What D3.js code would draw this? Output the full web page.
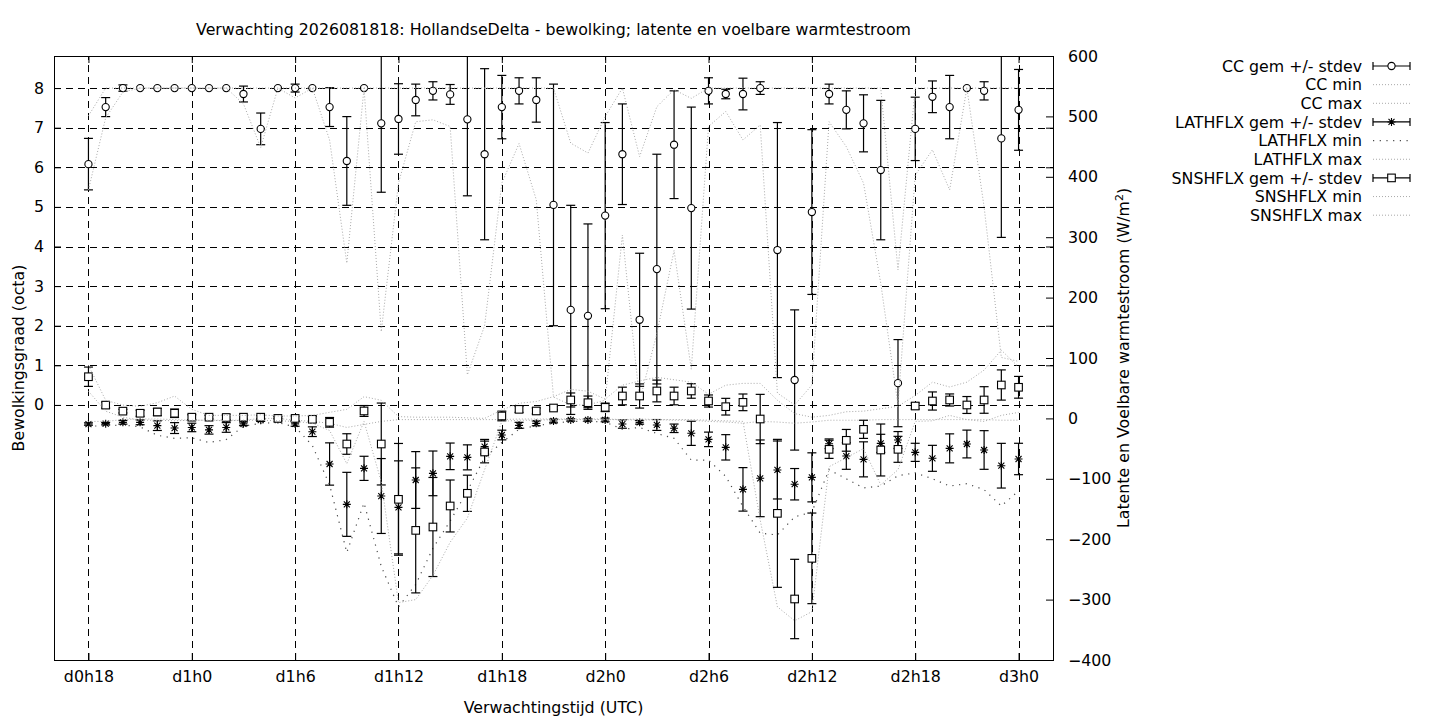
<!DOCTYPE html>
<html lang="nl">

<head>
    <meta charset="utf-8">
    <title>Verwachting HollandseDelta - bewolking en warmtestroom</title>
    <script type="text/javascript" src="https://cdnjs.cloudflare.com/ajax/libs/d3/7.8.5/d3.min.js"></script>
    <style type="text/css">
        body { margin: 0; background: #fff; }
        svg text { font-family: "DejaVu Sans", sans-serif; font-size: 15.8px; fill: #000; }
    </style>
</head>

<body>
    <script type="text/javascript">

        // forecast hour since d0h0 (d0h18 .. d3h0)
        var hours = [18, 19, 20, 21, 22, 23, 24, 25, 26, 27, 28, 29, 30, 31, 32, 33, 34, 35, 36, 37,
            38, 39, 40, 41, 42, 43, 44, 45, 46, 47, 48, 49, 50, 51, 52, 53, 54, 55, 56, 57,
            58, 59, 60, 61, 62, 63, 64, 65, 66, 67, 68, 69, 70, 71, 72];

        // cloud cover (octa)
        var ccMean = [6.08, 7.52, 8.0, 8.0, 8.0, 8.0, 8.0, 8.0, 8.0, 7.85,
            6.97, 8.0, 8.0, 8.0, 7.52, 6.16, 8.0, 7.11, 7.22, 7.70,
            7.93, 7.84, 7.21, 6.33, 7.52, 7.93, 7.70, 5.05, 2.40, 2.25,
            4.78, 6.33, 2.15, 3.43, 6.57, 4.97, 7.93, 7.85, 7.85, 8.0,
            3.91, 0.63, 4.87, 7.85, 7.45, 7.11, 5.93, 0.55, 6.97, 7.78,
            7.52, 8.0, 7.93, 6.73, 7.45];
        var ccStd = [0.65, 0.24, 0.08, 0, 0, 0, 0, 0, 0, 0.2,
            0.4, 0, 0.1, 0, 0.49, 1.12, 0, 1.74, 0.89, 0.4,
            0.23, 0.25, 1.93, 2.16, 0.8, 0.33, 0.56, 3.05, 2.64, 2.32,
            2.35, 1.27, 1.68, 2.9, 1.36, 2.55, 0.33, 0.12, 0.4, 0.16,
            3.22, 1.77, 2.08, 0.25, 0.48, 0.72, 1.76, 1.1, 0.8, 0.4,
            0.8, 0, 0.23, 2.5, 1.02];
        var ccMin = [5.43, 7.25, 7.9, 8, 8, 8, 8, 8, 8, 7.6,
            6.5, 8, 7.75, 8, 6.69, 3.58, 8, 1.85, 5.6, 7.15,
            7.2, 7.03, 0.76, 2.0, 5.6, 6.6, 5.18, 0.2, 0, 0,
            0.12, 4.29, 0.1, 1.8, 3.9, 0.9, 7.03, 7.41, 6.69, 7.07,
            0.3, 0, 0.5, 7.15, 6.52, 5.6, 3.07, 0, 5.8, 6.44,
            5.43, 8, 5.0, 1.2, 1.1];
        var ccMax = [7.3, 8, 8, 8, 8, 8, 8, 8, 8, 8,
            8, 8, 8, 8, 8, 8, 8, 8, 8, 8,
            8, 8, 8, 8, 8, 8, 8, 8, 6.61, 6.36,
            7.28, 8, 6.27, 7.53, 7.96, 7.74, 8, 8, 8, 8,
            8, 8, 8, 8, 8, 8, 8, 3.41, 8, 8,
            8, 8, 8, 8, 8];

        // latent heat flux (W/m2)
        var lhMean = [-9.3, -8.7, -6.5, -6.5, -12, -16, -15, -19, -15, -9,
            -3, -2, -9, -22, -75.5, -142.3, -82.7, -128.5, -147.3, -102,
            -91, -62.8, -64.5, -46.8, -27.5, -11.5, -8.2, -4.3, -2.6, -2.6,
            -2.6, -9.3, -6.5, -10.9, -16.4, -24.7, -34.7, -47.9, -117.5, -99.2,
            -85.4, -109, -97.6, -42, -62.3, -67.8, -41.3, -35.8, -56.2, -66.1,
            -49.6, -42.4, -52.3, -78.3, -67.2];
        var lhStd = [2, 2, 3, 4, 8, 9, 7, 7, 8, 3,
            2, 2, 4, 8, 35, 53, 20, 62, 77, 47,
            37, 22, 20.7, 12, 8, 5, 4, 3, 2, 2,
            3, 7, 3, 9, 7, 20, 12, 21, 36, 63.5,
            48, 26, 40.6, 8, 22, 29, 15, 14, 15, 21.5,
            24, 23, 32, 37, 26];
        var lhMin = [-13, -12, -11, -14, -28, -33, -32, -40, -35, -13,
            -8, -7, -14, -45, -110, -222, -140, -245, -312, -275,
            -215, -170, -120, -65, -40, -18, -12, -8, -5, -5,
            -6, -18, -15, -25, -33, -69, -69, -96, -146, -190,
            -193, -163, -155, -85, -100, -115, -112, -95, -90, -100,
            -112, -108, -118, -145, -120];
        var lhMax = [-5, -5, -2, -1, -1, -2, -3, -3, -3, -3,
            0, 0, -3, -5, -8, -15, -10, -5, -2, -2,
            -2, -2, -2, -2, -2, -1, -1, -1, -1, -1,
            -1, -2, -1, -2, -3, -3, -5, -6, -8, -5,
            -6, -8, -6, -3, -3, -3, -2, -2, -2, -2,
            -2, -2, -2, -3, -3];

        // sensible heat flux (W/m2)
        var shMean = [69, 22, 12, 8.5, 10.6, 8.5, 2, 2, 1.5, 2,
            2, 0, 0, -1.5, -6.5, -42.4, 12.3, -42.4, -134, -185.4,
            -179.8, -145, -124, -55.6, 4, 15, 12.3, 17.2, 30.5, 26,
            18.3, 37.1, 37.1, 45.4, 37.1, 45.4, 28.8, 19.4, 26.6, -1,
            -157.2, -299, -231.7, -51.2, -36.3, -18.1, -52.3, -51.2, 20.5, 28.8,
            30.5, 22.2, 30.5, 55.3, 51.5];
        var shStd = [16, 5, 3, 5, 6, 7, 4, 3, 4, 3,
            3, 3, 4, 5, 8, 17, 9, 67.8, 92.5, 103.5,
            82, 43, 30, 18, 8, 5, 5, 3, 11.6, 11,
            7, 14.6, 20, 18, 14.6, 12, 10, 13.8, 13.8, 40.8,
            122.5, 65.7, 75, 15, 18, 15, 43, 21.5, 5, 15,
            10, 14, 22, 25, 18];
        var shMin = [45, 12, 2, -3, -3, -4, -3, -3, -4, -3,
            -3, -4, -5, -8, -20, -75, -5, -105, -305, -300,
            -260, -205, -165, -85, -5, -3, -3, -2, -2, -2,
            -2, -2, -3, -2, -2, -2, -3, -4, -5, -168,
            -312, -335, -320, -80, -65, -50, -110, -85, -5, -4,
            5, -2, -5, 5, 10];
        var shMax = [88, 30, 22, 20, 26, 37, 15, 5, 5, 5,
            6, 4, 4, 5, 10, 15, 36, 30, 3, 2,
            2, 2, 1, 0, 14, 25, 28, 36, 48, 45,
            32, 55, 62, 68, 64, 60, 40, 55, 58, 58,
            30, 8, 2, 5, 11, 12, 16, 20, 38, 60,
            52, 60, 80, 113, 85];

        var xTickHours = [18, 24, 30, 36, 42, 48, 54, 60, 66, 72];
        var xTickLabels = ["d0h18", "d1h0", "d1h6", "d1h12", "d1h18", "d2h0", "d2h6", "d2h12", "d2h18", "d3h0"];
        var ccTicks = [0, 1, 2, 3, 4, 5, 6, 7, 8];
        var fluxTicks = [-400, -300, -200, -100, 0, 100, 200, 300, 400, 500, 600];

        var w = 1440;
        var h = 720;
        var pl = 54, pr = 1053, pt = 56, pb = 660;

        var xScale = d3.scaleLinear().domain([16, 74]).range([pl, pr]);
        var yCC = d3.scaleLinear().domain([-6.44, 8.81]).range([pb, pt]);
        var yFlux = d3.scaleLinear().domain([-400, 600]).range([pb, pt]);

        var svg = d3.select("body")
            .append("svg")
            .attr("width", w)
            .attr("height", h);

        svg.append("defs").append("clipPath")
            .attr("id", "plotclip")
            .append("rect")
            .attr("x", pl).attr("y", pt)
            .attr("width", pr - pl).attr("height", pb - pt);

        //grid
        var grid = svg.append("g")
            .attr("stroke", "#000")
            .attr("stroke-width", 1)
            .attr("stroke-dasharray", "7,5");
        grid.selectAll("line.gx")
            .data(xTickHours)
            .enter()
            .append("line")
            .attr("x1", function (d) { return Math.round(xScale(d)) + 0.5; })
            .attr("x2", function (d) { return Math.round(xScale(d)) + 0.5; })
            .attr("y1", pb)
            .attr("y2", pt);
        grid.selectAll("line.gy")
            .data(ccTicks)
            .enter()
            .append("line")
            .attr("x1", pl)
            .attr("x2", pr)
            .attr("y1", function (d) { return Math.round(yCC(d)) + 0.5; })
            .attr("y2", function (d) { return Math.round(yCC(d)) + 0.5; });

        //axes
        var xAxis = d3.axisBottom(xScale)
            .tickValues(xTickHours)
            .tickFormat(function (d, i) { return xTickLabels[i]; })
            .tickSize(-7)
            .tickPadding(11);
        svg.append("g").attr("class", "axis")
            .attr("transform", "translate(0," + pb + ")")
            .call(xAxis);

        svg.append("g").attr("class", "axis")
            .attr("transform", "translate(0," + pt + ")")
            .call(d3.axisTop(xScale).tickValues(xTickHours).tickFormat("").tickSize(-7));

        svg.append("g").attr("class", "axis")
            .attr("transform", "translate(" + pl + ",0)")
            .call(d3.axisLeft(yCC).tickValues(ccTicks).tickSize(-7).tickPadding(10));

        svg.append("g").attr("class", "axis")
            .attr("transform", "translate(" + pr + ",0)")
            .call(d3.axisRight(yCC).tickValues(ccTicks).tickFormat("").tickSize(-7));

        svg.append("g").attr("class", "axis")
            .attr("transform", "translate(" + pr + ",0)")
            .call(d3.axisRight(yFlux).tickValues(fluxTicks).tickSize(-7).tickPadding(15));

        svg.selectAll(".axis .domain").remove();
        svg.selectAll(".axis text")
            .attr("font-family", "DejaVu Sans")
            .attr("font-size", "15.8px")
            .attr("fill", "#000");
        svg.selectAll(".axis line").attr("stroke", "#000");

        svg.append("rect")
            .attr("x", pl + 0.5).attr("y", pt + 0.5)
            .attr("width", pr - pl).attr("height", pb - pt)
            .attr("fill", "none")
            .attr("stroke", "#000")
            .attr("stroke-width", 1);

        var plot = svg.append("g").attr("clip-path", "url(#plotclip)");

        function rows(mean, sd, mn, mx) {
            return hours.map(function (hr, i) {
                return { h: hr, m: mean[i], s: sd[i], min: mn[i], max: mx[i] };
            });
        }

        var ccRows = rows(ccMean, ccStd, ccMin, ccMax);
        var lhRows = rows(lhMean, lhStd, lhMin, lhMax);
        var shRows = rows(shMean, shStd, shMin, shMax);

        var styleLight = { stroke: "#a9a9a9", dash: "1,2", width: 1 };
        var styleDark = { stroke: "#4a4a4a", dash: "1.2,5.5", width: 1.2 };

        function drawLine(data, key, yScale, st) {
            var line = d3.line()
                .x(function (d) { return xScale(d.h); })
                .y(function (d) { return yScale(d[key]); });
            plot.append("path")
                .datum(data)
                .attr("d", line)
                .attr("fill", "none")
                .attr("stroke", st.stroke)
                .attr("stroke-width", st.width)
                .attr("stroke-dasharray", st.dash);
        }

        function marker(g, type) {
            if (type === "circle") {
                g.append("circle").attr("r", 3.6)
                    .attr("fill", "#fff").attr("stroke", "#000").attr("stroke-width", 1.1);
            } else if (type === "square") {
                g.append("rect").attr("x", -3.8).attr("y", -3.8).attr("width", 7.6).attr("height", 7.6)
                    .attr("fill", "#fff").attr("stroke", "#000").attr("stroke-width", 1.1);
            } else {
                g.append("path")
                    .attr("d", "M-4,0H4M0,-4V4M-3,-3L3,3M-3,3L3,-3")
                    .attr("stroke", "#000").attr("stroke-width", 1.1).attr("fill", "none");
            }
        }

        function drawErr(data, yScale, type) {
            var bars = plot.append("g")
                .attr("stroke", "#000")
                .attr("stroke-width", 1.2);
            var withBar = data.filter(function (d) { return d.s > 0; });
            bars.selectAll("line.v")
                .data(withBar)
                .enter()
                .append("line")
                .attr("x1", function (d) { return xScale(d.h); })
                .attr("x2", function (d) { return xScale(d.h); })
                .attr("y1", function (d) { return yScale(d.m - d.s); })
                .attr("y2", function (d) { return yScale(d.m + d.s); });
            [-1, 1].forEach(function (sg) {
                bars.selectAll("line.c" + (sg + 1))
                    .data(withBar)
                    .enter()
                    .append("line")
                    .attr("x1", function (d) { return xScale(d.h) - 4.5; })
                    .attr("x2", function (d) { return xScale(d.h) + 4.5; })
                    .attr("y1", function (d) { return yScale(d.m + sg * d.s); })
                    .attr("y2", function (d) { return yScale(d.m + sg * d.s); });
            });
            var pts = plot.append("g");
            pts.selectAll("g")
                .data(data)
                .enter()
                .append("g")
                .attr("transform", function (d) {
                    return "translate(" + xScale(d.h) + "," + yScale(d.m) + ")";
                })
                .each(function () { marker(d3.select(this), type); });
        }

        //plot order as in the legend
        drawErr(ccRows, yCC, "circle");
        drawLine(ccRows, "min", yCC, styleLight);
        drawLine(ccRows, "max", yCC, styleLight);
        drawErr(lhRows, yFlux, "star");
        drawLine(lhRows, "min", yFlux, styleDark);
        drawLine(lhRows, "max", yFlux, styleLight);
        drawErr(shRows, yFlux, "square");
        drawLine(shRows, "min", yFlux, styleLight);
        drawLine(shRows, "max", yFlux, styleLight);

        //legend
        var legendItems = [
            { label: "CC gem +/- stdev", kind: "err", type: "circle" },
            { label: "CC min", kind: "line", st: styleLight },
            { label: "CC max", kind: "line", st: styleLight },
            { label: "LATHFLX gem +/- stdev", kind: "err", type: "star" },
            { label: "LATHFLX min", kind: "line", st: styleDark },
            { label: "LATHFLX max", kind: "line", st: styleLight },
            { label: "SNSHFLX gem +/- stdev", kind: "err", type: "square" },
            { label: "SNSHFLX min", kind: "line", st: styleLight },
            { label: "SNSHFLX max", kind: "line", st: styleLight }
        ];
        var lx1 = 1373, lx2 = 1410;
        var legend = svg.append("g");
        legendItems.forEach(function (it, i) {
            var y = 66 + i * 18.65;
            legend.append("text")
                .attr("x", 1362)
                .attr("y", y)
                .attr("dy", "0.36em")
                .attr("text-anchor", "end")
                .text(it.label);
            if (it.kind === "err") {
                var g = legend.append("g").attr("stroke", "#000").attr("stroke-width", 1.2);
                g.append("line").attr("x1", lx1).attr("x2", lx2).attr("y1", y).attr("y2", y);
                g.append("line").attr("x1", lx1).attr("x2", lx1).attr("y1", y - 4).attr("y2", y + 4);
                g.append("line").attr("x1", lx2).attr("x2", lx2).attr("y1", y - 4).attr("y2", y + 4);
                var mg = legend.append("g").attr("transform", "translate(" + ((lx1 + lx2) / 2) + "," + y + ")");
                marker(mg, it.type);
            } else {
                legend.append("line")
                    .attr("x1", lx1).attr("x2", lx2)
                    .attr("y1", y).attr("y2", y)
                    .attr("stroke", it.st.stroke)
                    .attr("stroke-width", it.st.width)
                    .attr("stroke-dasharray", it.st.dash);
            }
        });

        //titles
        svg.append("text")
            .attr("x", (pl + pr) / 2)
            .attr("y", 35)
            .attr("text-anchor", "middle")
            .text("Verwachting 2026081818: HollandseDelta - bewolking; latente en voelbare warmtestroom");

        svg.append("text")
            .attr("x", (pl + pr) / 2)
            .attr("y", 713)
            .attr("text-anchor", "middle")
            .text("Verwachtingstijd (UTC)");

        svg.append("text")
            .attr("transform", "translate(24," + ((pt + pb) / 2) + ") rotate(-90)")
            .attr("text-anchor", "middle")
            .text("Bewolkingsgraad (octa)");

        var y2label = svg.append("text")
            .attr("transform", "translate(1129," + ((pt + pb) / 2) + ") rotate(-90)")
            .attr("text-anchor", "middle");
        y2label.append("tspan").text("Latente en Voelbare warmtestroom (W/m");
        y2label.append("tspan").attr("dy", "-6").attr("font-size", "11px").text("2");
        y2label.append("tspan").attr("dy", "6").text(")");

    </script>
</body>

</html>
